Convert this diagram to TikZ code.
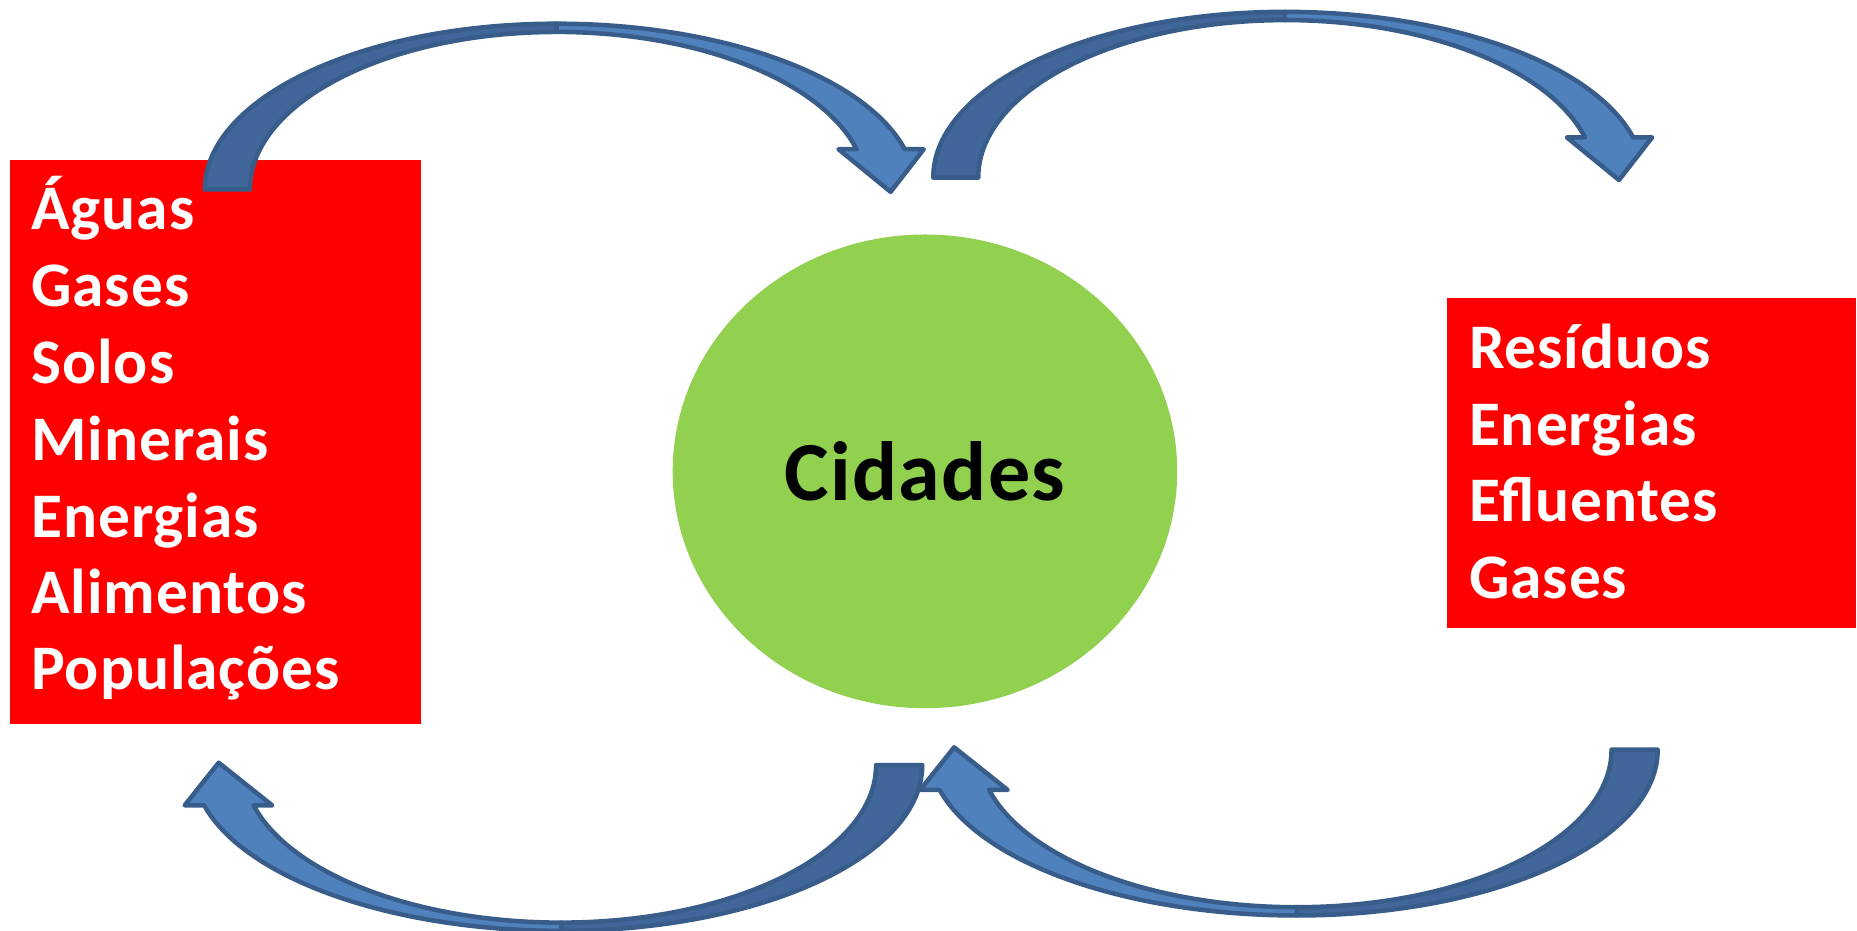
\documentclass[tikz,border=0pt]{standalone}
\usepackage{fontspec}
\setmainfont{Carlito}[LetterSpace=1.5]
\usetikzlibrary{shapes.geometric}
\definecolor{arrdark}{HTML}{41679A}
\definecolor{arrlight}{HTML}{4F81BD}
\definecolor{arrline}{HTML}{385D8A}
\definecolor{boxred}{HTML}{FF0000}
\definecolor{citygreen}{HTML}{92D050}
\tikzset{
  redbox/.style={fill=boxred,draw=none,inner sep=0pt,anchor=north west},
  listtext/.style={anchor=base west,inner sep=0pt,text=white,font=\bfseries\fontsize{26.8pt}{31pt}\selectfont},
  arrpart/.style={draw=arrline,line width=1.9pt,line join=round},
  curvarr/.pic={
    \path[arrpart,fill=arrdark]
      (-297,0) arc[start angle=180,end angle=90,x radius=297,y radius=140]
      -- (0,133) arc[start angle=90,end angle=180,x radius=259,y radius=133] -- cycle;
    \path[arrpart,fill=arrlight]
      (0,140) arc[start angle=90,end angle=14.05,x radius=303,y radius=140]
      -- (310,34) -- (282,-2) -- (238,34) -- (253.3,34)
      arc[start angle=14.8,end angle=90,x radius=262,y radius=133] -- cycle;
  }
}
\begin{document}
\begin{tikzpicture}[x=0.5pt,y=0.5pt]
\useasboundingbox (0,0) rectangle (1568,-786);
% boxes
\node[redbox,minimum width=173.5pt,minimum height=238pt] (inbox) at (8,-135) {};
\node[redbox,minimum width=173pt,minimum height=139.5pt] (outbox) at (1221,-251) {};
% city
\node[ellipse,fill=citygreen,draw=none,minimum width=213pt,minimum height=200pt,inner sep=0pt,
      font=\bfseries\fontsize{35.5pt}{40pt}\selectfont] (city) at (781,-398) {Cidades};
% input list
\node[listtext] (i1) at (26,-194) {Águas};
\node[listtext] (i2) at (26,-259) {Gases};
\node[listtext] (i3) at (26,-323.5) {Solos};
\node[listtext] (i4) at (26,-388.5) {Minerais};
\node[listtext] (i5) at (26,-453.5) {Energias};
\node[listtext] (i6) at (26,-518) {Alimentos};
\node[listtext] (i7) at (26,-582.5) {Populações};
% output list
\node[listtext] (o1) at (1240,-311) {Resíduos};
\node[listtext] (o2) at (1240,-376) {Energias};
\node[listtext] (o3) at (1240,-440) {Efluentes};
\node[listtext] (o4) at (1240,-505) {Gases};
% curved arrows
\pic at (470,-160) {curvarr};
\pic at (1085,-150) {curvarr};
\pic[rotate=180,xscale=1.026] at (474,-646) {curvarr};
\pic[rotate=180,xscale=1.026] at (1095,-633) {curvarr};
\end{tikzpicture}
\end{document}
